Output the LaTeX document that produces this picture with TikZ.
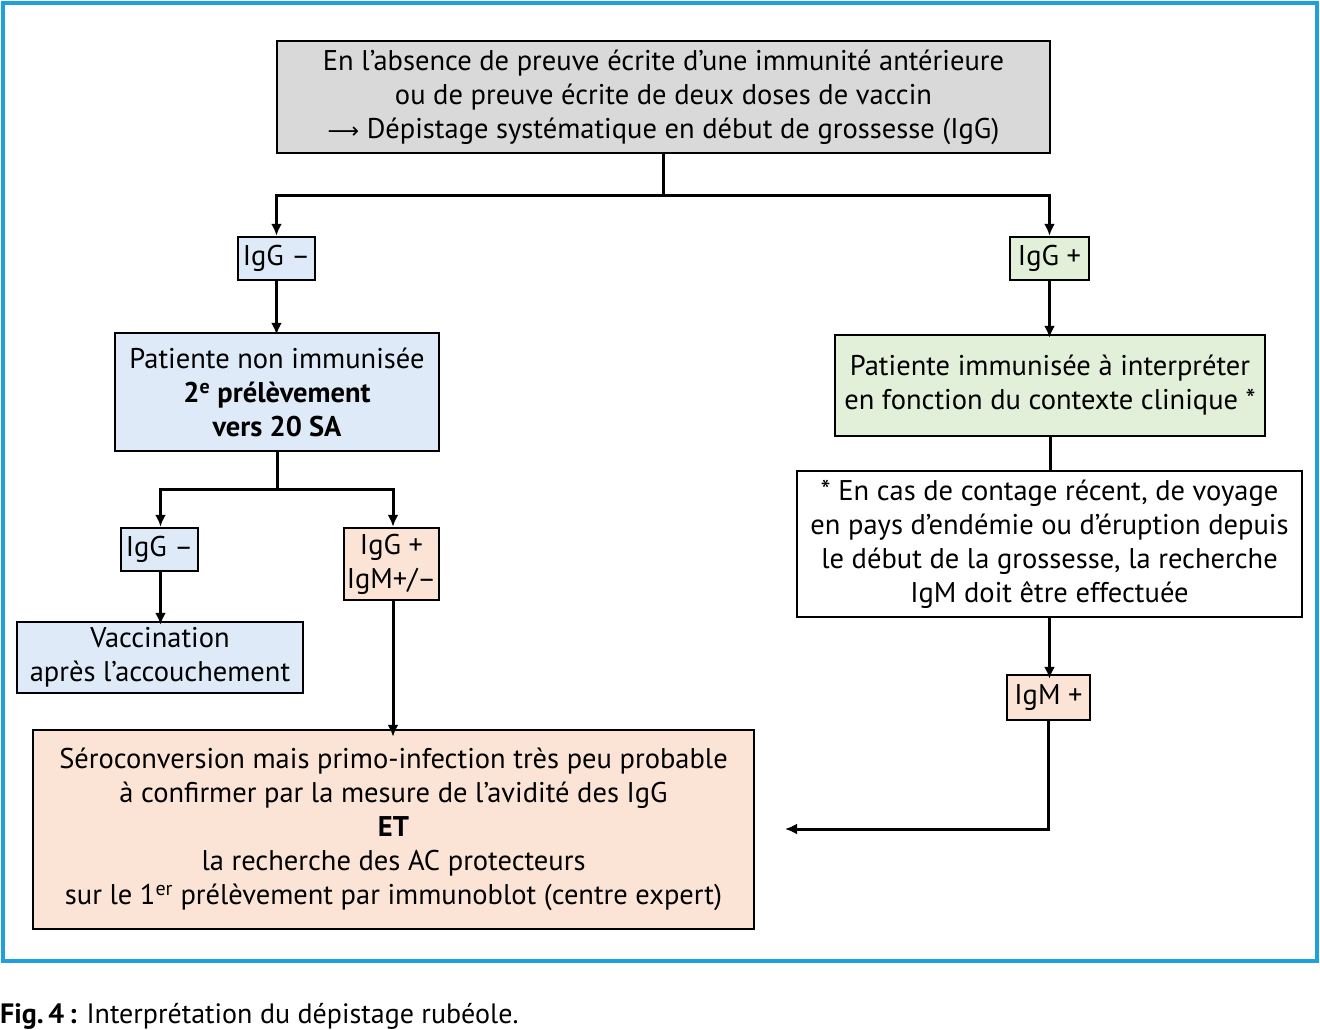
\documentclass[tikz,border=0pt]{standalone}
\usepackage{fontspec}
\setmainfont{PT Sans}
\newfontfamily\symfont{DejaVu Sans}
\usetikzlibrary{arrows.meta}
\definecolor{frameblue}{HTML}{1EA0DC}
\definecolor{boxgray}{HTML}{D9D9D9}
\definecolor{boxblue}{HTML}{DEEAF7}
\definecolor{boxgreen}{HTML}{E2EFD9}
\definecolor{boxpeach}{HTML}{FBE4D5}
\tikzset{
  box/.style={draw=black, line width=2.5pt, inner sep=0pt, align=center,
    font=\fontsize{28.5}{34}\selectfont},
  arr/.style={line width=3pt, -{Latex[length=12pt,width=11pt]}},
  ln/.style={line width=3pt},
}
\begin{document}
\begin{tikzpicture}[x=1pt,y=-1pt]
\useasboundingbox (0,0) rectangle (1320,1030);
\draw[frameblue, line width=4pt] (3,3) rectangle (1317,961);

\node[box, fill=boxgray, minimum width=773pt, minimum height=112pt] (top) at (663.5,97)
  {En l’absence de preuve écrite d’une immunité antérieure\\
   ou de preuve écrite de deux doses de vaccin\\
   {\symfont\fontsize{22}{34}\selectfont ⟶} Dépistage systématique en début de grossesse (IgG)};

\node[box, fill=boxblue, minimum width=77pt, minimum height=43pt] (igA) at (276.5,258.5) {IgG –};
\node[box, fill=boxgreen, minimum width=79pt, minimum height=43pt] (igD) at (1049.5,258.5) {IgG +};

\node[box, fill=boxblue, minimum width=324pt, minimum height=118pt] (pni) at (277,392)
  {Patiente non immunisée\\
   \textbf{2\textsuperscript{e} prélèvement}\\
   \textbf{vers 20 SA}};

\node[box, fill=boxgreen, minimum width=430pt, minimum height=101pt] (pim) at (1050,385.5)
  {Patiente immunisée à interpréter\\
   en fonction du contexte clinique *};

\node[box, fill=white, minimum width=505pt, minimum height=146pt] (note) at (1049.5,544)
  {* En cas de contage récent, de voyage\\
   en pays d’endémie ou d’éruption depuis\\
   le début de la grossesse, la recherche\\
   IgM doit être effectuée};

\node[box, fill=boxblue, minimum width=77pt, minimum height=43pt] (igB) at (159.5,549.5) {IgG –};
\node[box, fill=boxpeach, minimum width=95pt, minimum height=72pt] (igC) at (391.5,564)
  {IgG +\\IgM+/–};

\node[box, fill=boxblue, minimum width=286pt, minimum height=71pt] (vac) at (160,657.5)
  {Vaccination\\après l’accouchement};

\node[box, fill=boxpeach, minimum width=83pt, minimum height=45pt] (igm) at (1048.5,697.5) {IgM +};

\node[box, fill=boxpeach, minimum width=721pt, minimum height=199pt] (sero) at (393.5,829.5)
  {Séroconversion mais primo-infection très peu probable\\
   à confirmer par la mesure de l’avidité des IgG\\
   \textbf{ET}\\
   la recherche des AC protecteurs\\
   sur le 1\textsuperscript{er} prélèvement par immunoblot (centre expert)};

\node[anchor=west, inner sep=0pt, font=\fontsize{28}{30}\selectfont] (cap) at (0,1016)
  {\textbf{Fig.\,4\,:} Interprétation du dépistage rubéole.};

% connectors
\coordinate (j1) at (663.5,195);
\draw[ln] (top.south) -- (j1);
\draw[arr] (j1) -| (igA.north);
\draw[arr] (j1) -| (igD.north);
\draw[arr] (igA.south) -- ([yshift=-3pt]igA.south |- pni.north);
\draw[arr] (igD.south) -- ([yshift=-4pt]igD.south |- pim.north);
\draw[ln] (pim.south) -- (pim.south |- note.north);

\coordinate (j2) at (277,489);
\draw[ln] (pni.south) -- (j2);
\draw[arr] (j2) -| ([xshift=1pt]igB.north);
\draw[arr] (j2) -| ([xshift=1.5pt]igC.north);
\draw[arr] ([xshift=1pt]igB.south) -- ([xshift=1pt,yshift=-4pt]igB.south |- vac.north);
\draw[arr] ([xshift=1.5pt]igC.south) -- ([xshift=1.5pt,yshift=-8pt]igC.south |- sero.north);
\draw[arr] (note.south) -- ([yshift=-5pt]note.south |- igm.north);

\coordinate (e1) at (785,829);
\draw[arr] (igm.south) |- (e1);
\end{tikzpicture}
\end{document}
